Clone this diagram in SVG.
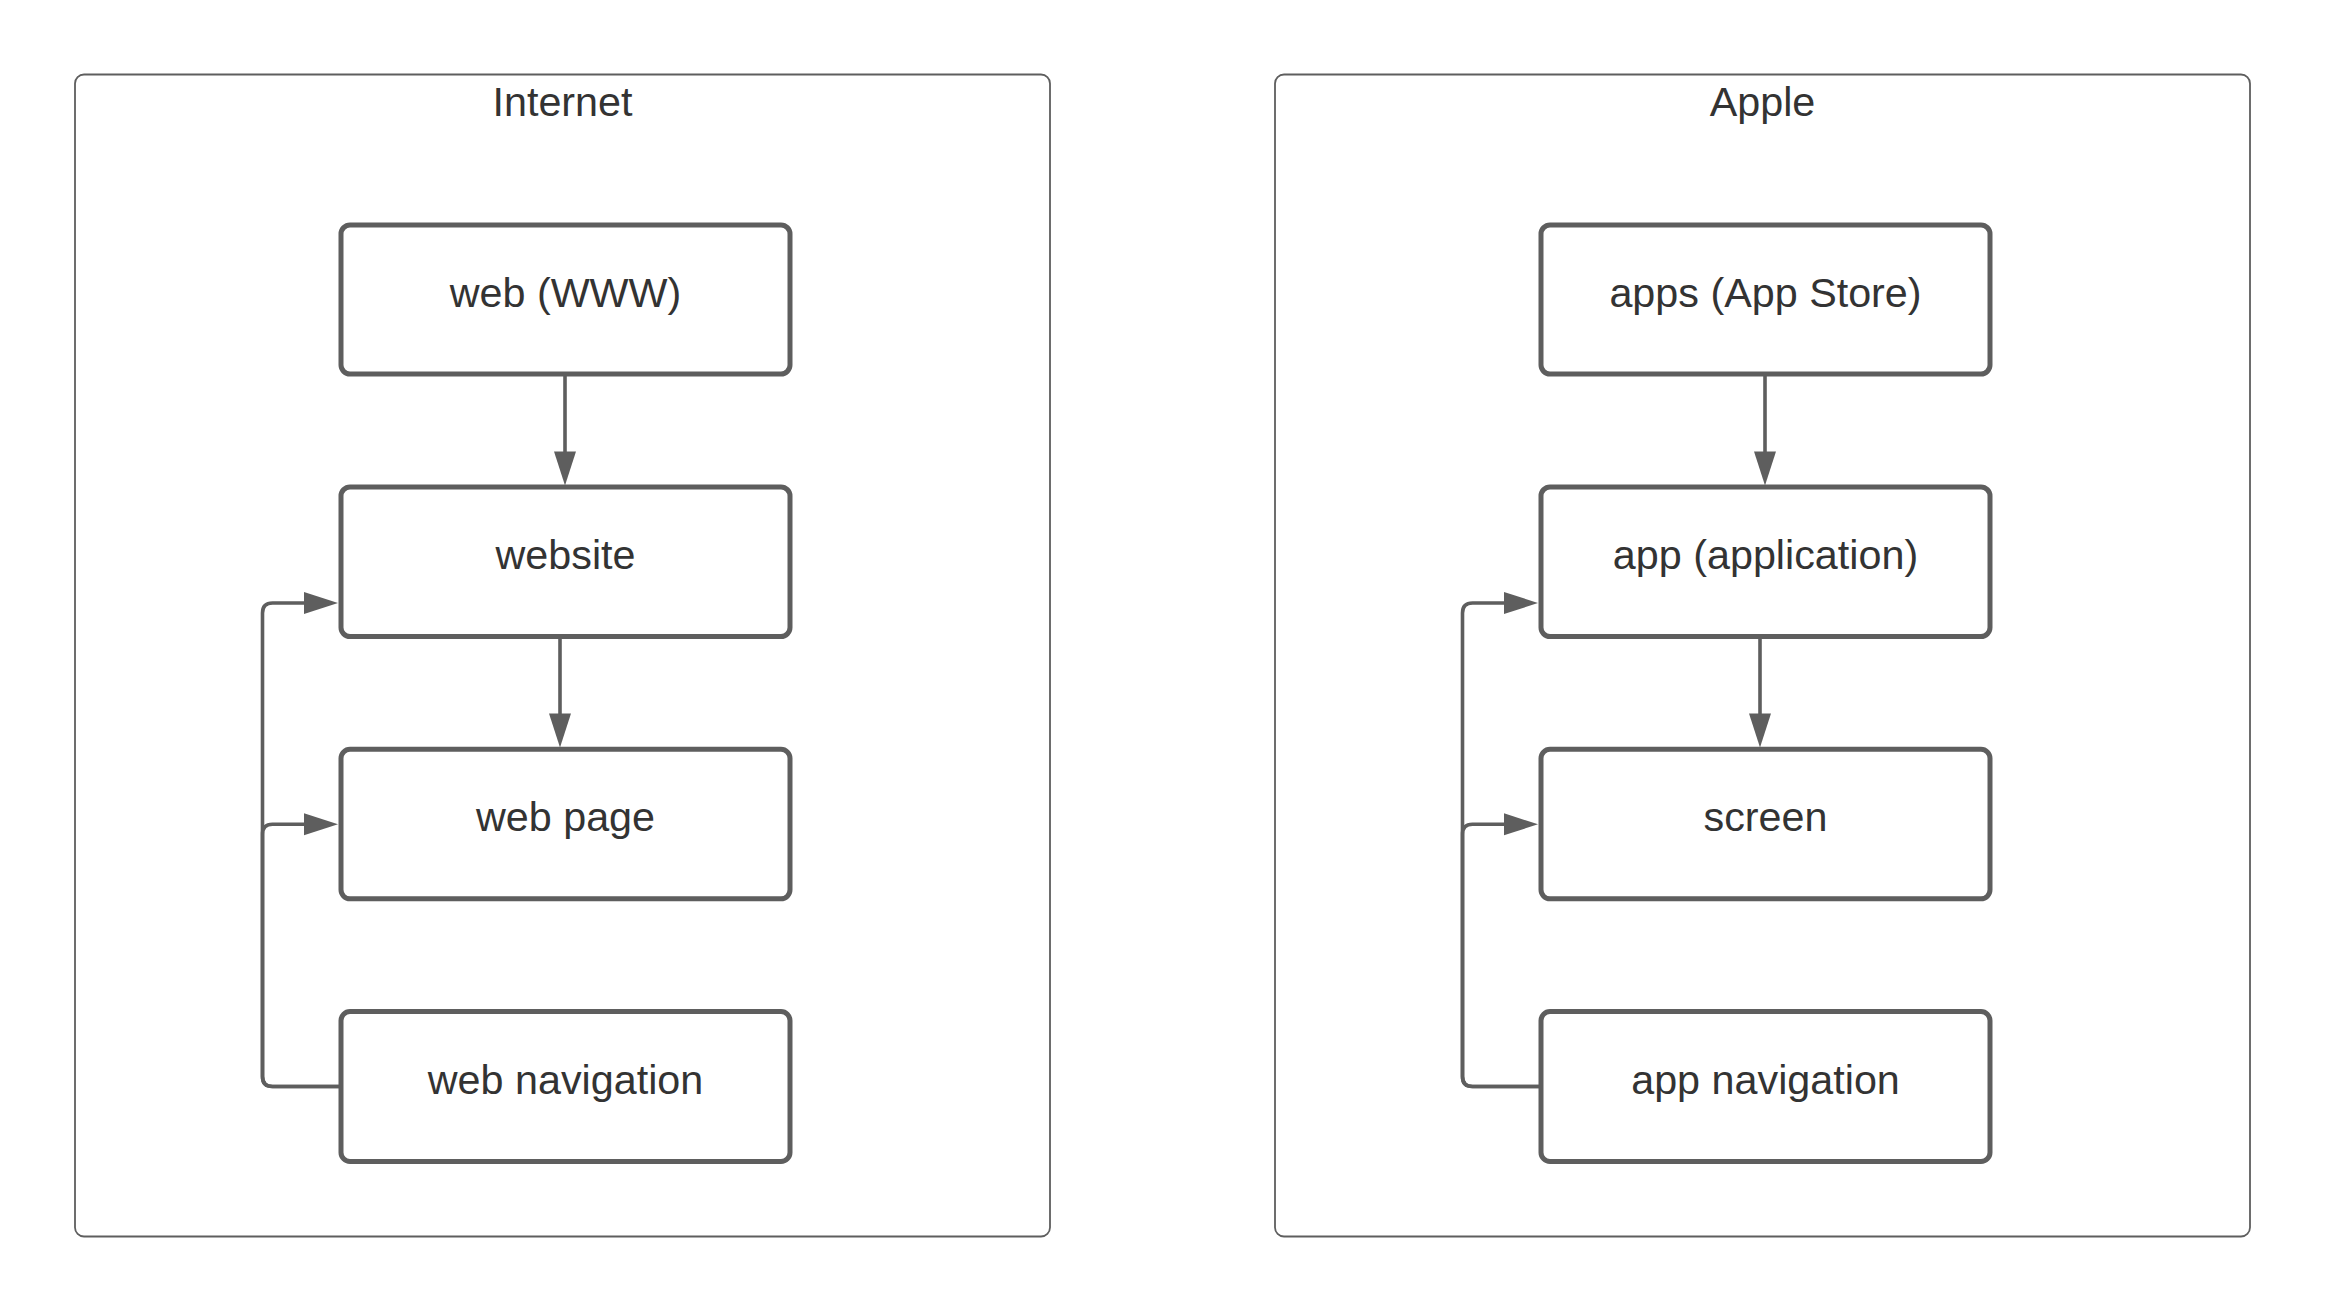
<svg xmlns="http://www.w3.org/2000/svg" width="2325" height="1313" viewBox="0 0 2325 1313">
<defs>
<style>
.container{fill:#ffffff;stroke:#5e5e5e;stroke-width:1.8}
.box{fill:#ffffff;stroke:#5e5e5e;stroke-width:5}
.lbl{font-family:"Liberation Sans",Arial,sans-serif;font-size:41.3px;fill:#333333;text-anchor:middle}
.conn{fill:none;stroke:#5e5e5e;stroke-width:3.6}
</style>
<marker id="arr" markerUnits="userSpaceOnUse" markerWidth="36" markerHeight="24" refX="2" refY="11" orient="auto" overflow="visible">
<path d="M0,0 L34,11 L0,22 Z" fill="#5e5e5e"/>
</marker>
</defs>
<rect width="2325" height="1313" fill="#ffffff"/>
<g id="internet">
<rect class="container" x="75" y="74.5" width="975" height="1162" rx="9"/>
<text class="lbl" x="562.5" y="116">Internet</text>
</g>
<g id="apple">
<rect class="container" x="1275" y="74.5" width="975" height="1162" rx="9"/>
<text class="lbl" x="1762.5" y="116">Apple</text>
</g>
<g id="connectors">
<path class="conn" d="M565,373.5 V453.5" marker-end="url(#arr)"/>
<path class="conn" d="M560,636.5 V715.5" marker-end="url(#arr)"/>
<path class="conn" d="M341,1086.5 H272.5 Q262.5,1086.5 262.5,1076.5 V613 Q262.5,603 272.5,603 H306" marker-end="url(#arr)"/>
<path class="conn" d="M341,1086.5 H272.5 Q262.5,1086.5 262.5,1076.5 V834.3 Q262.5,824.3 272.5,824.3 H306" marker-end="url(#arr)"/>
<path class="conn" d="M1765,373.5 V453.5" marker-end="url(#arr)"/>
<path class="conn" d="M1760,636.5 V715.5" marker-end="url(#arr)"/>
<path class="conn" d="M1541,1086.5 H1472.5 Q1462.5,1086.5 1462.5,1076.5 V613 Q1462.5,603 1472.5,603 H1506" marker-end="url(#arr)"/>
<path class="conn" d="M1541,1086.5 H1472.5 Q1462.5,1086.5 1462.5,1076.5 V834.3 Q1462.5,824.3 1472.5,824.3 H1506" marker-end="url(#arr)"/>
</g>
<g id="web-www">
<rect class="box" x="341" y="225" width="449" height="149" rx="9"/>
<text class="lbl" x="565.5" y="306.5">web (WWW)</text>
</g>
<g id="website">
<rect class="box" x="341" y="487" width="449" height="149.5" rx="9"/>
<text class="lbl" x="565.5" y="568.5">website</text>
</g>
<g id="web-page">
<rect class="box" x="341" y="749.3" width="449" height="149.5" rx="9"/>
<text class="lbl" x="565.5" y="831">web page</text>
</g>
<g id="web-navigation">
<rect class="box" x="341" y="1011.6" width="449" height="149.8" rx="9"/>
<text class="lbl" x="565.5" y="1093.5">web navigation</text>
</g>
<g id="apps-app-store">
<rect class="box" x="1541" y="225" width="449" height="149" rx="9"/>
<text class="lbl" x="1765.5" y="306.5">apps (App Store)</text>
</g>
<g id="app-application">
<rect class="box" x="1541" y="487" width="449" height="149.5" rx="9"/>
<text class="lbl" x="1765.5" y="568.5">app (application)</text>
</g>
<g id="screen">
<rect class="box" x="1541" y="749.3" width="449" height="149.5" rx="9"/>
<text class="lbl" x="1765.5" y="831">screen</text>
</g>
<g id="app-navigation">
<rect class="box" x="1541" y="1011.6" width="449" height="149.8" rx="9"/>
<text class="lbl" x="1765.5" y="1093.5">app navigation</text>
</g>
</svg>
